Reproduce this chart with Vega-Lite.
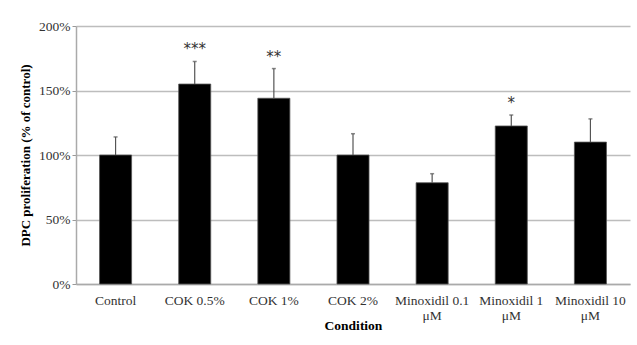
{
  "$schema": "https://vega.github.io/schema/vega-lite/v6.json",
  "autosize": {"type": "none"},
  "padding": {"left": 76, "top": 26, "right": 7, "bottom": 61},
  "width": 554,
  "height": 258,
  "background": "white",
  "config": {
    "view": {"stroke": null},
    "font": "Liberation Serif",
    "axis": {"labelFont": "Liberation Serif", "titleFont": "Liberation Serif"}
  },
  "data": {
    "values": [
      {"cond": "Control", "value": 100, "upper": 114, "star": ""},
      {"cond": "COK 0.5%", "value": 155, "upper": 172.5, "star": "***"},
      {"cond": "COK 1%", "value": 144, "upper": 167, "star": "**"},
      {"cond": "COK 2%", "value": 100, "upper": 116.5, "star": ""},
      {"cond": "Minoxidil 0.1 μM", "value": 78.5, "upper": 85.5, "star": ""},
      {"cond": "Minoxidil 1 μM", "value": 122.5, "upper": 131, "star": "*"},
      {"cond": "Minoxidil 10 μM", "value": 110, "upper": 128, "star": ""}
    ]
  },
  "encoding": {
    "x": {
      "field": "cond",
      "type": "nominal",
      "sort": null,
      "scale": {"paddingInner": 0.595, "paddingOuter": 0.2975},
      "axis": {
        "title": "Condition",
        "titleFontWeight": "bold",
        "titleFontSize": 13.5,
        "titleColor": "#000",
        "titlePadding": -3,
        "titleAnchor": "middle",
        "labelAngle": 0,
        "labelFontSize": 13.5,
        "labelColor": "#333",
        "labelPadding": 9,
        "labelLineHeight": 15,
        "labelExpr": "indexof(datum.label,'μM')>0 ? [replace(datum.label,' μM',''), 'μM'] : datum.label",
        "ticks": false,
        "domainColor": "#aaa",
        "domainWidth": 1.5
      }
    }
  },
  "layer": [
    {
      "mark": {"type": "bar", "color": "#000", "stroke": "#555", "strokeWidth": 0.8},
      "encoding": {
        "y": {
          "field": "value",
          "type": "quantitative",
          "scale": {"domain": [0, 200]},
          "axis": {
            "title": "DPC proliferation  (% of control)",
            "titleFontWeight": "bold",
            "titleFontSize": 13,
            "titleColor": "#000",
            "titlePadding": 6,
            "values": [0, 50, 100, 150, 200],
            "labelExpr": "datum.value + '%'",
            "labelFontSize": 13.5,
            "labelColor": "#333",
            "labelPadding": 2,
            "tickSize": 4,
            "tickColor": "#999",
            "domainColor": "#aaa",
            "domainWidth": 1.5,
            "grid": true,
            "gridColor": "#bdbdbd",
            "gridWidth": 1.5
          }
        }
      }
    },
    {
      "mark": {"type": "rule", "color": "#555", "strokeWidth": 1.2},
      "encoding": {
        "y": {"field": "value", "type": "quantitative"},
        "y2": {"field": "upper"}
      }
    },
    {
      "mark": {"type": "tick", "color": "#555", "size": 4, "thickness": 1.5},
      "encoding": {
        "y": {"field": "upper", "type": "quantitative"}
      }
    },
    {
      "mark": {"type": "text", "fontSize": 15, "color": "#333", "baseline": "middle", "dy": -12, "font": "DejaVu Sans"},
      "encoding": {
        "y": {"field": "upper", "type": "quantitative"},
        "text": {"field": "star"}
      }
    }
  ]
}
